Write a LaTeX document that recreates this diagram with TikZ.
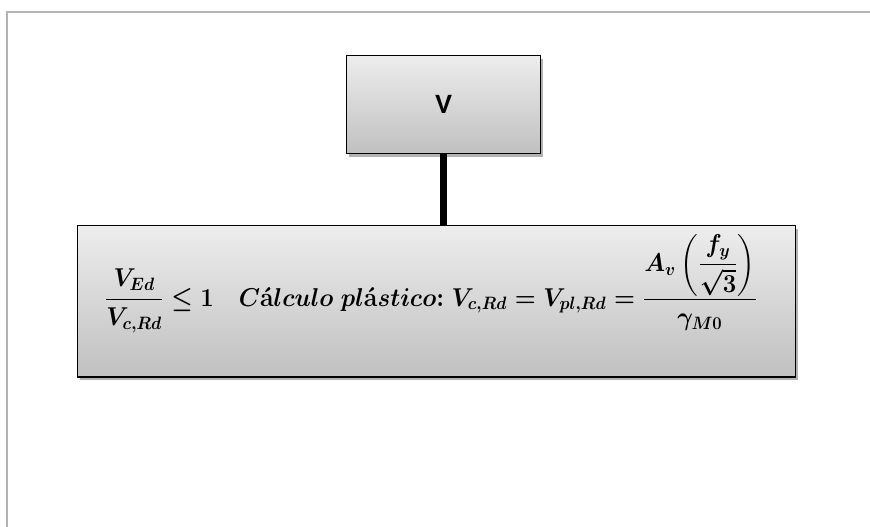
\documentclass[tikz,border=0pt]{standalone}
\usepackage{amsmath}
\usepackage{graphicx}
\usepackage{fontspec}
\newfontfamily\carlito{Carlito}
\usetikzlibrary{shadows}
\definecolor{frameGray}{HTML}{B4B4B4}
\definecolor{boxTop}{HTML}{EDEDED}
\definecolor{boxBot}{HTML}{C0C0C0}
\newsavebox\formbox
\tikzset{
  gbox/.style={draw=black, line width=1.1pt, shading=axis, top color=boxTop, bottom color=boxBot,
    drop shadow={shadow xshift=1.8pt, shadow yshift=-2.6pt, opacity=0.3, fill=black},
    inner sep=0pt, anchor=north west},
  link/.style={line width=5.2pt, black},
  frameline/.style={draw=frameGray, line width=1.1pt},
  formtext/.style={anchor=base, inner sep=0pt}
}
\begin{document}
\sbox\formbox{\scalebox{1.04}[1.12]{\fontsize{18}{22}\selectfont\boldmath$\displaystyle \frac{V_{Ed}}{V_{c,Rd}} \le 1 \quad C\text{\bfseries\'a}lculo\ pl\text{\bfseries\'a}stico\text{\bfseries :}\ V_{c,Rd} = V_{pl,Rd} = \frac{A_{v}\left(\dfrac{f_y}{\sqrt{3}}\right)}{\gamma_{M0}}$}}%
\begin{tikzpicture}[x=0.75pt, y=-0.75pt]
\useasboundingbox (0,0) rectangle (870,527);
\draw[frameline] (7,527) -- (7,12) -- (870,12);
\node[gbox, minimum width=145.5pt, minimum height=73.5pt] (v) at (346,55) {};
\node[font=\carlito\bfseries\fontsize{21}{24}\selectfont] (vlab) at (v.center) {V};
\node[gbox, minimum width=538.5pt, minimum height=113.3pt] (main) at (77,225) {};
\draw[link] (v.south) -- (v.south |- main.north);
\node[formtext] (formula) at (431,306) {\usebox\formbox};
\end{tikzpicture}
\end{document}
